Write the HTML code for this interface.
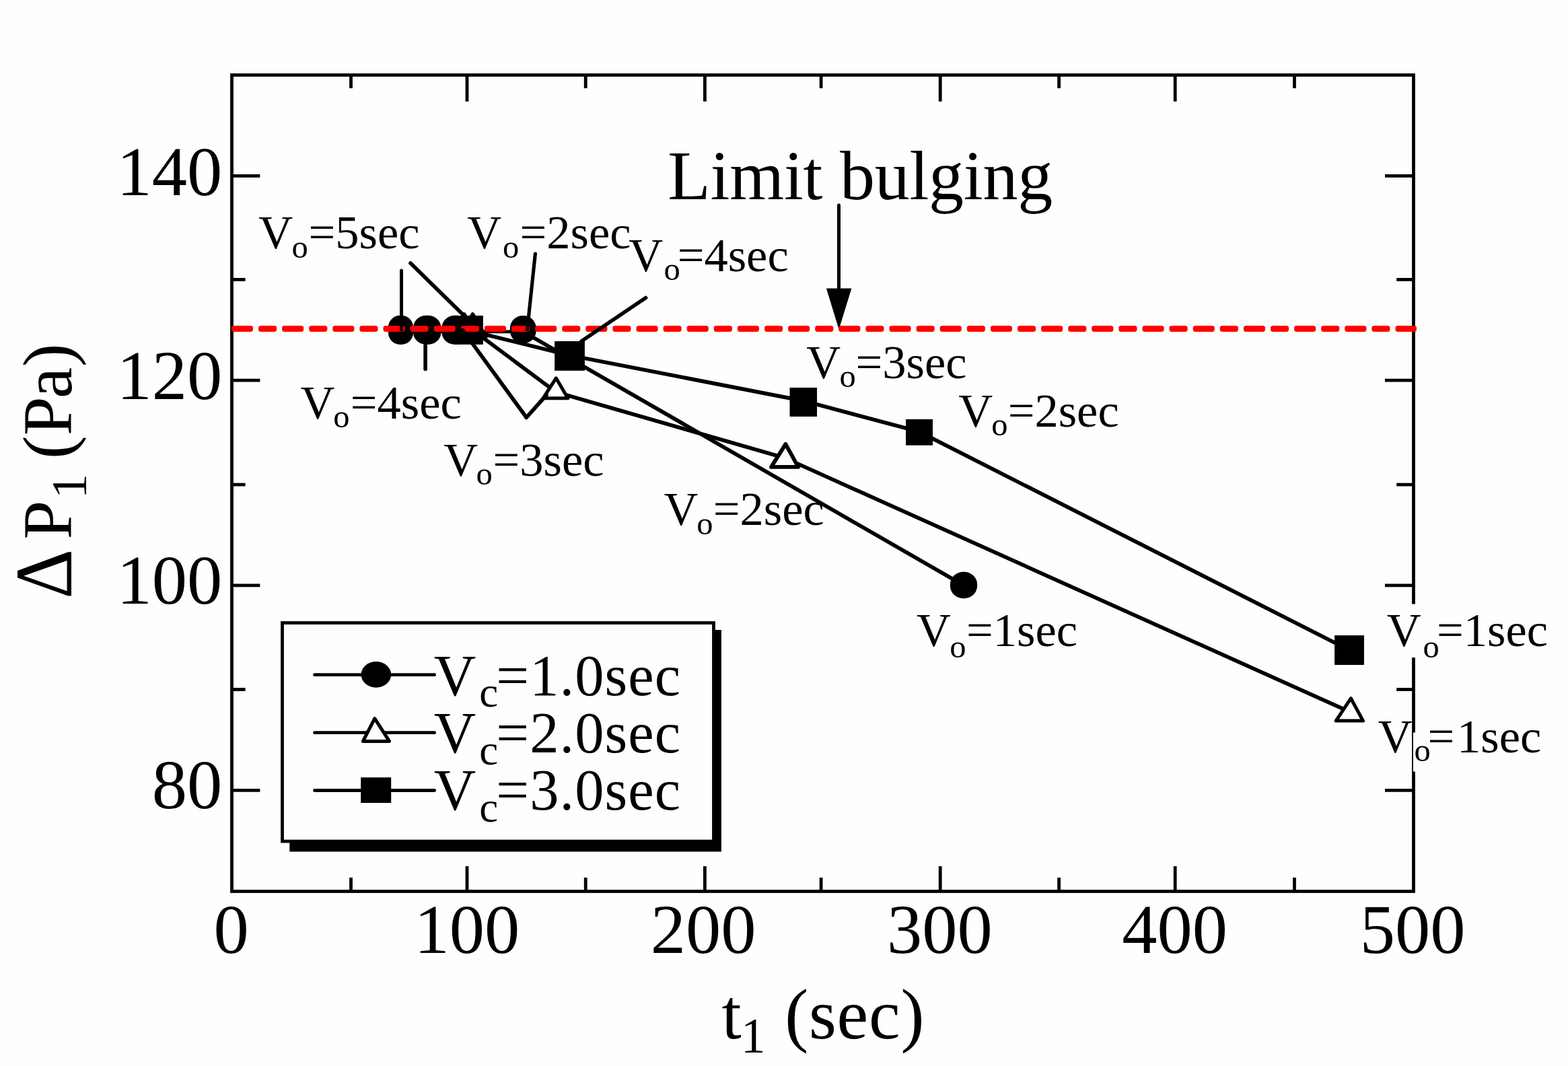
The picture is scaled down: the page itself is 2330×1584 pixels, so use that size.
<!DOCTYPE html>
<html lang="en">
<head>
<meta charset="utf-8">
<title>Limit bulging chart</title>
<style>
html,body{margin:0;padding:0;background:#fefefe;}
body{width:2330px;height:1584px;overflow:hidden;}
svg{display:block;}
</style>
</head>
<body>
<svg width="2330" height="1584" viewBox="0 0 2330 1584">
<rect x="0" y="0" width="2330" height="1584" fill="#fefefe"/>
<g stroke="#000" stroke-width="4.8" fill="none" stroke-linecap="butt">
<rect x="344.5" y="111.5" width="1756" height="1213"/>
<line x1="521.5" y1="111.5" x2="521.5" y2="131.1"/>
<line x1="521.5" y1="1324.5" x2="521.5" y2="1304.1"/>
<line x1="694.0" y1="111.5" x2="694.0" y2="150.8"/>
<line x1="694.0" y1="1324.5" x2="694.0" y2="1287.1"/>
<line x1="870.2" y1="111.5" x2="870.2" y2="131.1"/>
<line x1="870.2" y1="1324.5" x2="870.2" y2="1304.1"/>
<line x1="1047.4" y1="111.5" x2="1047.4" y2="150.8"/>
<line x1="1047.4" y1="1324.5" x2="1047.4" y2="1287.1"/>
<line x1="1220.1" y1="111.5" x2="1220.1" y2="131.1"/>
<line x1="1220.1" y1="1324.5" x2="1220.1" y2="1304.1"/>
<line x1="1397.2" y1="111.5" x2="1397.2" y2="150.8"/>
<line x1="1397.2" y1="1324.5" x2="1397.2" y2="1287.1"/>
<line x1="1573.6" y1="111.5" x2="1573.6" y2="131.1"/>
<line x1="1573.6" y1="1324.5" x2="1573.6" y2="1304.1"/>
<line x1="1746.2" y1="111.5" x2="1746.2" y2="150.8"/>
<line x1="1746.2" y1="1324.5" x2="1746.2" y2="1287.1"/>
<line x1="1923.5" y1="111.5" x2="1923.5" y2="131.1"/>
<line x1="1923.5" y1="1324.5" x2="1923.5" y2="1304.1"/>
<line x1="344.5" y1="261.4" x2="386.4" y2="261.4"/>
<line x1="2100.5" y1="261.4" x2="2058" y2="261.4"/>
<line x1="344.5" y1="415.4" x2="364.6" y2="415.4"/>
<line x1="2100.5" y1="415.4" x2="2075.2" y2="415.4"/>
<line x1="344.5" y1="565.2" x2="386.4" y2="565.2"/>
<line x1="2100.5" y1="565.2" x2="2058" y2="565.2"/>
<line x1="344.5" y1="720.1" x2="364.6" y2="720.1"/>
<line x1="2100.5" y1="720.1" x2="2075.2" y2="720.1"/>
<line x1="344.5" y1="869.9" x2="386.4" y2="869.9"/>
<line x1="2100.5" y1="869.9" x2="2058" y2="869.9"/>
<line x1="344.5" y1="1024.5" x2="364.6" y2="1024.5"/>
<line x1="2100.5" y1="1024.5" x2="2075.2" y2="1024.5"/>
<line x1="344.5" y1="1174.3" x2="386.4" y2="1174.3"/>
<line x1="2100.5" y1="1174.3" x2="2058" y2="1174.3"/>
</g>
<rect x="2050" y="897.6" width="260" height="79.5" fill="#fefefe"/>
<rect x="2099.9" y="1088.5" width="200" height="58" fill="#fefefe"/>
<g stroke="#000" fill="none" stroke-linejoin="round" stroke-linecap="butt">
<line x1="595.5" y1="492.8" x2="777.3" y2="492.8" stroke-width="4.8"/>
<polyline points="777.3,492.8 1432,869.8" stroke-width="5.7"/>
<polyline points="689.8,491 702.5,490.5 826,582.5 1166.3,680.5 2005.5,1057.7" stroke-width="5.7"/>
<polyline points="696.4,491 846.5,528 1193.7,595.6 1366,641.6 2005,966" stroke-width="5.7"/>
</g>
<g stroke="#000" fill="#fefefe" stroke-linejoin="round">
<path d="M689.8,466.6 L709.6,500.5 L670,500.5 Z" stroke-width="5.0"/>
<path d="M702.5,466.6 L722.3,500.5 L682.7,500.5 Z" stroke-width="5.0"/>
<path d="M826.3,561.8 L843.8,591.8 L807,591.8 Z" stroke-width="5.0"/>
<path d="M1167.4,659.9 L1186.1,693.9 L1146,693.9 Z" stroke-width="5.8"/>
<path d="M2007.4,1037.7 L2025.5,1071.1 L1985.2,1071.1 Z" stroke-width="5.0"/>
</g>
<g fill="#000">
<rect x="576.9" y="468.7" width="37.2" height="43.2" rx="17.48" ry="17.71"/>
<rect x="614.1" y="468.7" width="41.2" height="43.2" rx="19.36" ry="17.71"/>
<rect x="656.6" y="468.7" width="41.2" height="43.2" rx="19.36" ry="17.71"/>
<rect x="757.8" y="469" width="39" height="41.2" rx="18.91" ry="18.95"/>
<rect x="1411.9" y="849.8" width="40.2" height="39.4" rx="19.5" ry="18.71"/>
<rect x="675.0" y="469.0" width="42.9" height="42.9"/>
<rect x="824.1" y="507.0" width="44.8" height="43.8"/>
<rect x="1173.5" y="576.0" width="40.5" height="43"/>
<rect x="1346.0" y="623.0" width="40" height="38.7"/>
<rect x="1983.1" y="944.1" width="43.9" height="43.9"/>
<path d="M1227.9,428.6 L1265.4,428.6 L1246.6,489.5 Z"/>
</g>
<g fill="#ff0000">
<rect x="343.9" y="483.9" width="32.1" height="9" rx="3.4" ry="3.4"/>
<rect x="384" y="483.9" width="27.1" height="9" rx="3.4" ry="3.4"/>
<rect x="419.1" y="483.9" width="32.1" height="9" rx="3.4" ry="3.4"/>
<rect x="459.2" y="483.9" width="27.1" height="9" rx="3.4" ry="3.4"/>
<rect x="494.3" y="483.9" width="32.1" height="9" rx="3.4" ry="3.4"/>
<rect x="534.4" y="483.9" width="27.1" height="9" rx="3.4" ry="3.4"/>
<rect x="569.5" y="483.9" width="32.1" height="9" rx="3.4" ry="3.4"/>
<rect x="609.6" y="483.9" width="27.1" height="9" rx="3.4" ry="3.4"/>
<rect x="644.7" y="483.9" width="32.1" height="9" rx="3.4" ry="3.4"/>
<rect x="684.8" y="483.9" width="27.1" height="9" rx="3.4" ry="3.4"/>
<rect x="719.9" y="483.9" width="32.1" height="9" rx="3.4" ry="3.4"/>
<rect x="760" y="483.9" width="27.1" height="9" rx="3.4" ry="3.4"/>
<rect x="795.1" y="483.9" width="32.1" height="9" rx="3.4" ry="3.4"/>
<rect x="835.2" y="483.9" width="27.1" height="9" rx="3.4" ry="3.4"/>
<rect x="870.3" y="483.9" width="32.1" height="9" rx="3.4" ry="3.4"/>
<rect x="910.4" y="483.9" width="27.1" height="9" rx="3.4" ry="3.4"/>
<rect x="945.5" y="483.9" width="32.1" height="9" rx="3.4" ry="3.4"/>
<rect x="985.6" y="483.9" width="27.1" height="9" rx="3.4" ry="3.4"/>
<rect x="1020.7" y="483.9" width="32.1" height="9" rx="3.4" ry="3.4"/>
<rect x="1060.8" y="483.9" width="27.1" height="9" rx="3.4" ry="3.4"/>
<rect x="1095.9" y="483.9" width="32.1" height="9" rx="3.4" ry="3.4"/>
<rect x="1136" y="483.9" width="27.1" height="9" rx="3.4" ry="3.4"/>
<rect x="1171.1" y="483.9" width="32.1" height="9" rx="3.4" ry="3.4"/>
<rect x="1211.2" y="483.9" width="27.1" height="9" rx="3.4" ry="3.4"/>
<rect x="1246.3" y="483.9" width="32.1" height="9" rx="3.4" ry="3.4"/>
<rect x="1286.4" y="483.9" width="27.1" height="9" rx="3.4" ry="3.4"/>
<rect x="1321.5" y="483.9" width="32.1" height="9" rx="3.4" ry="3.4"/>
<rect x="1361.6" y="483.9" width="27.1" height="9" rx="3.4" ry="3.4"/>
<rect x="1396.7" y="483.9" width="32.1" height="9" rx="3.4" ry="3.4"/>
<rect x="1436.8" y="483.9" width="27.1" height="9" rx="3.4" ry="3.4"/>
<rect x="1471.9" y="483.9" width="32.1" height="9" rx="3.4" ry="3.4"/>
<rect x="1512" y="483.9" width="27.1" height="9" rx="3.4" ry="3.4"/>
<rect x="1547.1" y="483.9" width="32.1" height="9" rx="3.4" ry="3.4"/>
<rect x="1587.2" y="483.9" width="27.1" height="9" rx="3.4" ry="3.4"/>
<rect x="1622.3" y="483.9" width="32.1" height="9" rx="3.4" ry="3.4"/>
<rect x="1662.4" y="483.9" width="27.1" height="9" rx="3.4" ry="3.4"/>
<rect x="1697.5" y="483.9" width="32.1" height="9" rx="3.4" ry="3.4"/>
<rect x="1737.6" y="483.9" width="27.1" height="9" rx="3.4" ry="3.4"/>
<rect x="1772.7" y="483.9" width="32.1" height="9" rx="3.4" ry="3.4"/>
<rect x="1812.8" y="483.9" width="27.1" height="9" rx="3.4" ry="3.4"/>
<rect x="1847.9" y="483.9" width="32.1" height="9" rx="3.4" ry="3.4"/>
<rect x="1888" y="483.9" width="27.1" height="9" rx="3.4" ry="3.4"/>
<rect x="1923.1" y="483.9" width="32.1" height="9" rx="3.4" ry="3.4"/>
<rect x="1963.2" y="483.9" width="27.1" height="9" rx="3.4" ry="3.4"/>
<rect x="1998.3" y="483.9" width="32.1" height="9" rx="3.4" ry="3.4"/>
<rect x="2038.4" y="483.9" width="27.1" height="9" rx="3.4" ry="3.4"/>
<rect x="2073.5" y="483.9" width="31.5" height="9" rx="3.4" ry="3.4"/>
</g>
<g stroke="#000" stroke-width="4.8" fill="none" stroke-linejoin="round" stroke-linecap="round">
<line x1="596.5" y1="402.0" x2="596.5" y2="490.0" stroke-width="5.0"/>
<line x1="610.0" y1="391.0" x2="690.0" y2="469.5" stroke-width="5.7"/>
<line x1="795.4" y1="377.0" x2="783.5" y2="489.7" stroke-width="5.2"/>
<line x1="632.1" y1="506.0" x2="632.1" y2="548.5" stroke-width="5.6"/>
<line x1="959.5" y1="442.5" x2="864.0" y2="507.0" stroke-width="5.7"/>
<line x1="687.5" y1="490.5" x2="782.2" y2="620.3" stroke-width="5.7"/>
<line x1="782.2" y1="620.3" x2="812.0" y2="587.0" stroke-width="5.7"/>
<line x1="1246.5" y1="305.0" x2="1246.5" y2="430.0" stroke-width="5.0"/>
</g>
<rect x="430.3" y="936" width="641.6" height="329.5" fill="#000"/>
<rect x="419.5" y="925.5" width="641" height="324.6" fill="#fefefe" stroke="#000" stroke-width="4.8"/>
<g stroke="#000" stroke-width="4.8" stroke-linecap="round">
<line x1="467.5" y1="1002.7" x2="645.6" y2="1002.7"/>
<line x1="467.5" y1="1088.7" x2="645.6" y2="1088.7"/>
<line x1="467.5" y1="1174.5" x2="645.6" y2="1174.5"/>
</g>
<ellipse cx="558.9" cy="1002.4" rx="22.3" ry="19.4" fill="#000"/>
<path d="M556.8,1067.6 L578.5,1101.4 L539.4,1101.4 Z" fill="#fefefe" stroke="#000" stroke-width="5.0" stroke-linejoin="round"/>
<rect x="536.2" y="1155.2" width="45" height="37.8" fill="#000"/>
<g font-family="'Liberation Serif', 'Times New Roman', Times, serif" fill="#000">
<text x="173.57" y="289.75" font-size="104.5">140</text>
<text x="173.57" y="593.36" font-size="104.5">120</text>
<text x="173.57" y="897.06" font-size="104.5">100</text>
<text x="225.82" y="1201.36" font-size="104.5">80</text>
<text x="317.57" y="1415.86" font-size="104.5">0</text>
<text x="615.41" y="1415.86" font-size="104.5">100</text>
<text x="966.73" y="1415.86" font-size="104.5">200</text>
<text x="1317.9" y="1415.86" font-size="104.5">300</text>
<text x="1667.14" y="1415.86" font-size="104.5">400</text>
<text x="2020.78" y="1415.86" font-size="104.5">500</text>
<text y="1543.3" font-size="105"><tspan x="1072.43">t</tspan><tspan x="1100.9" y="1563.5" font-size="73">1 </tspan><tspan x="1166.16" y="1543.3" letter-spacing="0.8">(sec)</tspan></text>
<text transform="translate(106.0,889.71) rotate(-90) scale(0.955,1)" x="0" y="0" font-size="120.3">Δ</text>
<text transform="translate(106.0,0) rotate(-90)" y="0" font-size="104"><tspan x="-801.46">P</tspan><tspan x="-741.11" y="22.2" font-size="74">1 </tspan><tspan x="-681.89" y="0">(</tspan><tspan x="-647.26">P</tspan><tspan x="-592.05">a</tspan><tspan x="-545.12">)</tspan></text>
<text x="992.35" y="296" font-size="104" letter-spacing="-0.25">Limit bulging</text>
<text y="369.24" font-size="70.5"><tspan x="384.27">V</tspan><tspan x="433.49" y="382.62" font-size="48.5">o</tspan><tspan x="458.58" y="369.24" letter-spacing="0">=5sec</tspan></text>
<text y="368.84" font-size="70.5"><tspan x="694.27">V</tspan><tspan x="747.09" y="382.81" font-size="48.5">o</tspan><tspan x="772.49" y="368.84" letter-spacing="0">=2sec</tspan></text>
<text y="402.84" font-size="70.5"><tspan x="934.17">V</tspan><tspan x="986.59" y="416.31" font-size="48.5">o</tspan><tspan x="1006.68" y="402.84" letter-spacing="0">=4sec</tspan></text>
<text y="621.54" font-size="70.5"><tspan x="446.47">V</tspan><tspan x="495.29" y="634.51" font-size="48.5">o</tspan><tspan x="520.78" y="621.54" letter-spacing="0">=4sec</tspan></text>
<text y="707.04" font-size="70.5"><tspan x="659.17">V</tspan><tspan x="707.39" y="720.22" font-size="48.5">o</tspan><tspan x="732.49" y="707.04" letter-spacing="0">=3sec</tspan></text>
<text y="561.54" font-size="70.5"><tspan x="1198.17">V</tspan><tspan x="1247.49" y="574.51" font-size="48.5">o</tspan><tspan x="1271.48" y="561.54" letter-spacing="0">=3sec</tspan></text>
<text y="633.84" font-size="70.5"><tspan x="1424.27">V</tspan><tspan x="1473.19" y="647.22" font-size="48.5">o</tspan><tspan x="1497.68" y="633.84" letter-spacing="0">=2sec</tspan></text>
<text y="779.94" font-size="70.5"><tspan x="986.47">V</tspan><tspan x="1035.29" y="793.51" font-size="48.5">o</tspan><tspan x="1059.79" y="779.94" letter-spacing="0">=2sec</tspan></text>
<text y="959.84" font-size="70.5"><tspan x="1361.97">V</tspan><tspan x="1411.29" y="976.91" font-size="48.5">o</tspan><tspan x="1435.98" y="959.84" letter-spacing="0">=1sec</tspan></text>
<text y="959.74" font-size="70.5"><tspan x="2060.77">V</tspan><tspan x="2114.59" y="977.41" font-size="48.5">o</tspan><tspan x="2134.99" y="959.74" letter-spacing="0">=1sec</tspan></text>
<text y="1117.84" font-size="70.5"><tspan x="2047.87">V</tspan><tspan x="2101.49" y="1131.32" font-size="48.5">o</tspan><tspan x="2121.59" y="1117.84" letter-spacing="0">=<tspan dx="3.6">1sec</tspan></tspan></text>
<text y="1032.9" font-size="86.5"><tspan x="644.72">V</tspan><tspan x="712.32" dy="17.5" font-size="63">c</tspan><tspan x="737.3" dy="-17.5" letter-spacing="1.1">=1.0sec</tspan></text>
<text y="1118" font-size="86.5"><tspan x="644.72">V</tspan><tspan x="712.32" dy="17.5" font-size="63">c</tspan><tspan x="737.3" dy="-17.5" letter-spacing="1.1">=2.0sec</tspan></text>
<text y="1203.4" font-size="86.5"><tspan x="644.72">V</tspan><tspan x="712.32" dy="17.5" font-size="63">c</tspan><tspan x="737.3" dy="-17.5" letter-spacing="1.1">=3.0sec</tspan></text>
</g>
</svg>
</body>
</html>
